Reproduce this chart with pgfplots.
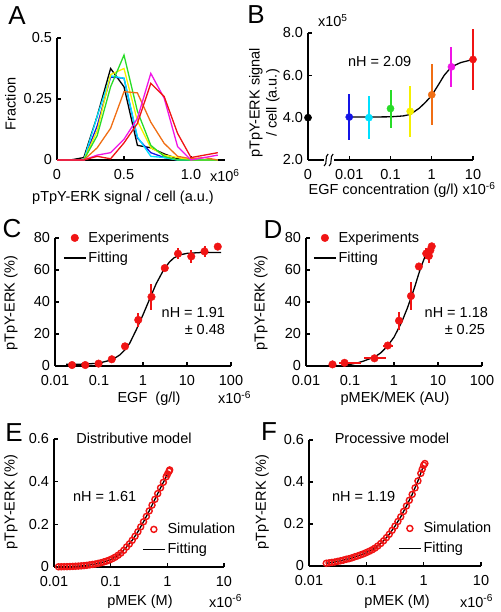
\documentclass[border=0pt]{standalone}
\usepackage{fontspec}
\setmainfont{Liberation Sans}
\usepackage{pgfplots}
\pgfplotsset{compat=1.18}
\definecolor{cblue}{RGB}{20,20,230}
\definecolor{ccyan}{RGB}{0,225,255}
\definecolor{cgreen}{RGB}{40,220,40}
\definecolor{cyellow}{RGB}{245,240,0}
\definecolor{corange}{RGB}{240,110,20}
\definecolor{cmag}{RGB}{240,20,230}
\definecolor{cred}{RGB}{240,20,20}
\newcommand\sz{\fontsize{14.5}{17}\selectfont}
\newcommand\bigsz{\fontsize{26}{28}\selectfont}
\pgfplotsset{
  myax/.style={
    scale only axis,
    axis lines=left,
    axis line style={-, line width=1.3pt},
    tick align=inside,
    major tick length=4pt,
    tick style={line width=1.1pt, black},
    /pgf/number format/assume math mode=true,
    xticklabel shift=4pt,
    clip=false,
    legend cell align=left,
    legend style={draw=none, fill=none, row sep=3.5pt, inner xsep=3pt, nodes={inner sep=2pt}},
    legend image code/.code={\draw[mark repeat=2,mark phase=2,##1] plot coordinates {(0pt,0pt) (11pt,0pt) (22pt,0pt)};},
  },
  ebar/.style={error bars/.cd, y dir=both, y explicit, error bar style={line width=2pt, solid, draw=#1, color=#1}, error mark=none},
  ebarxy/.style={error bars/.cd, y dir=both, y explicit, x dir=both, x explicit, error bar style={line width=2pt, solid, draw=#1, color=#1}, error mark=none},
  sim/.style={only marks, mark=o, mark size=3pt, cred, mark options={line width=1.45pt}},
}
\begin{document}
\sz
\begin{tikzpicture}
\useasboundingbox (0,0) rectangle (500pt,612pt);

% ---------------- Panel A ----------------
\begin{axis}[myax, at={(57pt,452pt)}, anchor=south west, width=167.5pt, height=122pt,
  xmin=0, xmax=1.25, ymin=0, ymax=0.5,
  xtick={0,0.5,1}, xticklabels={0,0.5,1.0}, ytick={0,0.25,0.5},
  xlabel={pTpY-ERK signal / cell (a.u.)}, ylabel={Fraction},
  xlabel style={at={(axis description cs:0.394,-0.311)},anchor=center},
  ylabel style={at={(axis description cs:-0.278,0.46)},anchor=center},
  every axis plot/.append style={line width=1.3pt, mark=none}]
\addplot[black] coordinates {(0,0) (0.1,0) (0.2,0.01) (0.3,0.18) (0.4,0.375) (0.5,0.30) (0.6,0.06) (0.7,0.05) (0.8,0.025) (0.9,0.005) (1.0,0) (1.1,0) (1.2,0)};
\addplot[cblue] coordinates {(0,0) (0.1,0) (0.2,0) (0.3,0.14) (0.4,0.34) (0.5,0.335) (0.6,0.09) (0.7,0.03) (0.8,0.01) (0.9,0) (1.0,0) (1.1,0) (1.2,0)};
\addplot[ccyan] coordinates {(0,0) (0.1,0) (0.2,0) (0.3,0.18) (0.4,0.345) (0.5,0.335) (0.6,0.095) (0.7,0.015) (0.8,0.01) (0.9,0) (1.0,0) (1.1,0) (1.2,0)};
\addplot[cyellow] coordinates {(0,0) (0.1,0) (0.2,0) (0.3,0.12) (0.4,0.35) (0.5,0.375) (0.6,0.16) (0.7,0.05) (0.8,0.02) (0.9,0.01) (1.0,0) (1.1,0) (1.2,0)};
\addplot[cgreen] coordinates {(0,0) (0.1,0) (0.2,0) (0.3,0.10) (0.4,0.30) (0.5,0.43) (0.6,0.20) (0.7,0.06) (0.8,0.015) (0.9,0) (1.0,0) (1.1,0) (1.2,0)};
\addplot[corange] coordinates {(0,0) (0.1,0) (0.2,0) (0.3,0.05) (0.4,0.13) (0.5,0.28) (0.6,0.275) (0.7,0.155) (0.8,0.068) (0.9,0.015) (1.0,0.005) (1.1,0.01) (1.2,0)};
\addplot[cmag] coordinates {(0,0) (0.1,0) (0.2,0) (0.3,0.02) (0.4,0.03) (0.5,0.085) (0.6,0.17) (0.7,0.355) (0.8,0.253) (0.9,0.055) (1.0,0) (1.1,0.01) (1.2,0.02)};
\addplot[cred] coordinates {(0,0) (0.1,0) (0.2,0) (0.3,0.015) (0.4,0.005) (0.5,0.07) (0.6,0.15) (0.7,0.314) (0.8,0.26) (0.9,0.109) (1.0,0.01) (1.1,0.02) (1.2,0.03)};
\end{axis}
\node[anchor=base west] at (205pt,430pt) {x10\textsuperscript{6}};
\node[font=\bigsz] at (17pt,596pt) {A};

% ---------------- Panel B ----------------
\begin{axis}[myax, at={(308pt,452pt)}, anchor=south west, width=165pt, height=127pt,
  xmode=log, xmin=0.001, xmax=10, ymin=2, ymax=8, xminorticks=false,
  xtick={0.001,0.01,0.1,1,10}, xticklabels={0,0.01,0.1,1,10},
  ytick={2,4,6,8}, yticklabels={2.0,4.0,6.0,8.0},
  xlabel={EGF concentration (g/l) x10\textsuperscript{-6}},
  ylabel={pTpY-ERK signal\\/ cell (a.u.)},
  xlabel style={at={(axis description cs:0.57,-0.236)},anchor=center},
  ylabel style={at={(axis description cs:-0.264,0.449)},anchor=center,align=center}]
\addplot[black, line width=1.3pt, mark=none] coordinates {(0.01,4.03) (0.03,4.03) (0.1,4.04) (0.2,4.08) (0.3,4.15) (0.5,4.45) (0.7,4.72) (1,5.05) (1.5,5.6) (2,6.0) (3,6.4) (5,6.6) (10,6.75)};
\addplot[only marks, mark=*, mark size=3.6pt, black] coordinates {(0.001,4.0)};
\addplot[only marks, mark=*, mark size=3.6pt, color=cblue, ebar=cblue] coordinates {(0.01,4.03) +- (0,1.1)};
\addplot[only marks, mark=*, mark size=3.6pt, color=ccyan, ebar=ccyan] coordinates {(0.03,4.0) +- (0,1.0)};
\addplot[only marks, mark=*, mark size=3.6pt, color=cgreen, ebar=cgreen] coordinates {(0.1,4.43) +- (0,0.9)};
\addplot[only marks, mark=*, mark size=3.6pt, color=cyellow, ebar=cyellow] coordinates {(0.3,4.3) +- (0,1.2)};
\addplot[only marks, mark=*, mark size=3.6pt, color=corange, ebar=corange] coordinates {(1,5.08) +- (0,1.45)};
\addplot[only marks, mark=*, mark size=3.6pt, color=cmag, ebar=cmag] coordinates {(3,6.4) +- (0,0.95)};
\addplot[only marks, mark=*, mark size=3.6pt, color=cred, ebar=cred] coordinates {(10,6.75) +- (0,1.45)};
\fill[white] ([xshift=-5pt,yshift=-3pt]axis cs:0.00316,2) rectangle ([xshift=5pt,yshift=3pt]axis cs:0.00316,2);
\draw[line width=1.1pt] ([xshift=-4.5pt,yshift=-6pt]axis cs:0.00316,2) .. controls ([xshift=-1pt,yshift=-4pt]axis cs:0.00316,2) and ([xshift=-4pt,yshift=4pt]axis cs:0.00316,2) .. ([xshift=-0.5pt,yshift=6pt]axis cs:0.00316,2);
\draw[line width=1.1pt] ([xshift=0.5pt,yshift=-6pt]axis cs:0.00316,2) .. controls ([xshift=4pt,yshift=-4pt]axis cs:0.00316,2) and ([xshift=1pt,yshift=4pt]axis cs:0.00316,2) .. ([xshift=4.5pt,yshift=6pt]axis cs:0.00316,2);
\end{axis}
\node[anchor=base west] at (313pt,585pt) {x10\textsuperscript{5}};
\node[anchor=base west] at (343pt,545pt) {nH = 2.09};
\node[font=\bigsz] at (256pt,597pt) {B};

% ---------------- Panel C ----------------
\begin{axis}[myax, at={(55pt,246pt)}, anchor=south west, width=176pt, height=128pt,
  xmode=log, xmin=0.01, xmax=100, ymin=0, ymax=80, xminorticks=false,
  xtick={0.01,0.1,1,10,100}, xticklabels={0.01,0.1,1,10,100}, ytick={0,20,40,60,80},
  xlabel={EGF\ \ (g/l)}, ylabel={pTpY-ERK (\%)},
  xlabel style={at={(axis description cs:0.534,-0.258)},anchor=center},
  ylabel style={at={(axis description cs:-0.25,0.49)},anchor=center},
  legend style={at={(axis description cs:0.028,0.922)}, anchor=west},
  reverse legend]
\addplot[black, line width=1.3pt, mark=none] coordinates {(0.018,1.0) (0.05,1.2) (0.1,1.8) (0.2,3.9) (0.3,7.0) (0.4,10.5) (0.5,14.3) (0.7,22.5) (1,32.0) (1.5,43.5) (2,51.5) (3,60.5) (4,65.0) (5,67.5) (7,69.5) (10,70.4) (20,70.9) (60,71.0)};
\addlegendentry{Fitting}
\addplot[only marks, mark=*, mark size=3.8pt, color=cred, ebar=cred] coordinates {
 (0.0244,0.6) +- (0,1) (0.0488,0.6) +- (0,1) (0.0977,1.5) +- (0,1) (0.195,4.2) +- (0,1)
 (0.39,12.3) +- (0,1.5) (0.78,28.8) +- (0,4.5) (1.56,43.2) +- (0,8) (3.125,61.2) +- (0,2)
 (6.25,70.2) +- (0,3.5) (12.5,68.5) +- (0,4) (25,71.6) +- (0,3.5) (50,74.6) +- (0,2)};
\addlegendentry{Experiments}
\end{axis}
\node[anchor=base east] at (230pt,294pt) {nH = 1.91};
\node[anchor=base east] at (230pt,277pt) {± 0.48};
\node[anchor=base west] at (213pt,208pt) {x10\textsuperscript{-6}};
\node[font=\bigsz] at (12pt,383pt) {C};

% ---------------- Panel D ----------------
\begin{axis}[myax, at={(306pt,246pt)}, anchor=south west, width=176pt, height=128pt,
  xmode=log, xmin=0.01, xmax=100, ymin=0, ymax=80, xminorticks=false,
  xtick={0.01,0.1,1,10,100}, xticklabels={0.01,0.1,1,10,100}, ytick={0,20,40,60,80},
  xlabel={pMEK/MEK (AU)}, ylabel={pTpY-ERK (\%)},
  xlabel style={at={(axis description cs:0.506,-0.258)},anchor=center},
  ylabel style={at={(axis description cs:-0.256,0.49)},anchor=center},
  legend style={at={(axis description cs:0.023,0.922)}, anchor=west},
  reverse legend]
\addplot[black, line width=1.3pt, mark=none] coordinates {(0.05,0) (0.07,0.3) (0.1,1.0) (0.15,2.0) (0.2,3.0) (0.3,4.8) (0.4,6.4) (0.5,8.2) (0.7,12.2) (1,18) (1.5,27.5) (2,36) (2.5,43.5) (3,50) (3.5,56) (4,61) (5,68) (6,72.8) (7.2,76.5)};
\addlegendentry{Fitting}
\addplot[only marks, mark=*, mark size=3.8pt, color=cred, ebarxy=cred] coordinates {
 (0.040,1.0) +- (0.004,0.5)
 (0.075,2.0) += (0.10,0.5) -= (0.018,0.5)
 (0.36,4.8) += (0.29,1.5) -= (0.15,1.5)
 (0.72,12.8) += (0.23,1.5) -= (0.17,1.5)
 (1.30,28.3) +- (0.1,5.5)
 (2.43,43.7) +- (0.15,8.5)
 (3.68,62.2) +- (0.2,2)
 (5.40,70.3) +- (0.3,3.5)
 (6.20,68.8) +- (0.4,4.5)
 (6.70,72.3) +- (0.3,2.5)
 (7.20,74.8) +- (0.3,2)};
\addlegendentry{Experiments}
\end{axis}
\node[anchor=base east] at (493pt,294pt) {nH = 1.18};
\node[anchor=base east] at (490pt,277pt) {± 0.25};
\node[font=\bigsz] at (273pt,382pt) {D};

% ---------------- Panel E ----------------
\begin{axis}[myax, at={(54pt,45pt)}, anchor=south west, width=170pt, height=128pt,
  xmode=log, xmin=0.01, xmax=10, ymin=0, ymax=0.6, xminorticks=false,
  xtick={0.01,0.1,1,10}, xticklabels={0.01,0.1,1,10}, ytick={0,0.2,0.4,0.6},
  xlabel={pMEK (M)}, ylabel={pTpY-ERK (\%)},
  xlabel style={at={(axis description cs:0.506,-0.273)},anchor=center},
  ylabel style={at={(axis description cs:-0.253,0.508)},anchor=center},
  legend style={at={(axis description cs:0.5,0.215)}, anchor=west},
  reverse legend]
\addplot[black, line width=1.3pt, mark=none] coordinates {(0.0120,0.0010) (0.0151,0.0015) (0.0191,0.0023) (0.0240,0.0035) (0.0302,0.0053) (0.0380,0.0080) (0.0479,0.0120) (0.0603,0.0170) (0.0759,0.0240) (0.0955,0.0330) (0.120,0.046) (0.151,0.065) (0.191,0.094) (0.240,0.125) (0.302,0.165) (0.380,0.212) (0.479,0.263) (0.603,0.317) (0.759,0.371) (0.955,0.423) (1.072,0.449)};
\addlegendentry{Fitting}
\addplot[sim] coordinates {(0.0120,0.0010) (0.0135,0.0012) (0.0151,0.0015) (0.0170,0.0018) (0.0191,0.0023) (0.0214,0.0028) (0.0240,0.0035) (0.0269,0.0043) (0.0302,0.0053) (0.0339,0.0065) (0.0380,0.0080) (0.0427,0.0100) (0.0479,0.0120) (0.0537,0.0140) (0.0603,0.0170) (0.0676,0.0200) (0.0759,0.0240) (0.0851,0.0280) (0.0955,0.0330) (0.107,0.039) (0.120,0.046) (0.135,0.055) (0.151,0.065) (0.170,0.078) (0.191,0.094) (0.214,0.108) (0.240,0.125) (0.269,0.144) (0.302,0.165) (0.339,0.188) (0.380,0.212) (0.427,0.237) (0.479,0.263) (0.537,0.290) (0.603,0.317) (0.676,0.344) (0.759,0.371) (0.851,0.397) (0.955,0.423) (1.010,0.436) (1.072,0.449) (1.100,0.455)};
\addlegendentry{Simulation}
\end{axis}
\node[anchor=base] at (134pt,168pt) {Distributive model};
\node[anchor=base west] at (68pt,110pt) {nH = 1.61};
\node[anchor=base west] at (204pt,5pt) {x10\textsuperscript{-6}};
\node[font=\bigsz] at (14pt,179pt) {E};

% ---------------- Panel F ----------------
\begin{axis}[myax, at={(309pt,46pt)}, anchor=south west, width=172pt, height=126pt,
  xmode=log, xmin=0.01, xmax=10, ymin=0, ymax=0.6, xminorticks=false,
  xtick={0.01,0.1,1,10}, xticklabels={0.01,0.1,1,10}, ytick={0,0.2,0.4,0.6},
  xlabel={pMEK (M)}, ylabel={pTpY-ERK (\%)},
  xlabel style={at={(axis description cs:0.512,-0.286)},anchor=center},
  ylabel style={at={(axis description cs:-0.273,0.508)},anchor=center},
  legend style={at={(axis description cs:0.5,0.218)}, anchor=west},
  reverse legend]
\addplot[black, line width=1.3pt, mark=none] coordinates {(0.0200,0.013) (0.0251,0.017) (0.0316,0.022) (0.0398,0.028) (0.0501,0.035) (0.0631,0.044) (0.0794,0.053) (0.1000,0.064) (0.126,0.077) (0.158,0.095) (0.200,0.120) (0.251,0.151) (0.316,0.190) (0.398,0.234) (0.501,0.286) (0.631,0.341) (0.794,0.405) (1.000,0.480)};
\addlegendentry{Fitting}
\addplot[sim] coordinates {(0.0200,0.013) (0.0224,0.015) (0.0251,0.017) (0.0282,0.019) (0.0316,0.022) (0.0355,0.025) (0.0398,0.028) (0.0447,0.032) (0.0501,0.035) (0.0562,0.039) (0.0631,0.044) (0.0708,0.048) (0.0794,0.053) (0.0891,0.058) (0.1000,0.064) (0.112,0.070) (0.126,0.077) (0.141,0.085) (0.158,0.095) (0.178,0.107) (0.200,0.120) (0.224,0.135) (0.251,0.151) (0.282,0.170) (0.316,0.190) (0.355,0.212) (0.398,0.234) (0.447,0.260) (0.501,0.286) (0.562,0.313) (0.631,0.341) (0.708,0.372) (0.794,0.405) (0.891,0.441) (0.944,0.461) (1.000,0.480) (1.050,0.488)};
\addlegendentry{Simulation}
\end{axis}
\node[anchor=base] at (392pt,168pt) {Processive model};
\node[anchor=base west] at (327pt,110pt) {nH = 1.19};
\node[anchor=base west] at (455pt,5pt) {x10\textsuperscript{-6}};
\node[font=\bigsz] at (269pt,180pt) {F};
\end{tikzpicture}
\end{document}
